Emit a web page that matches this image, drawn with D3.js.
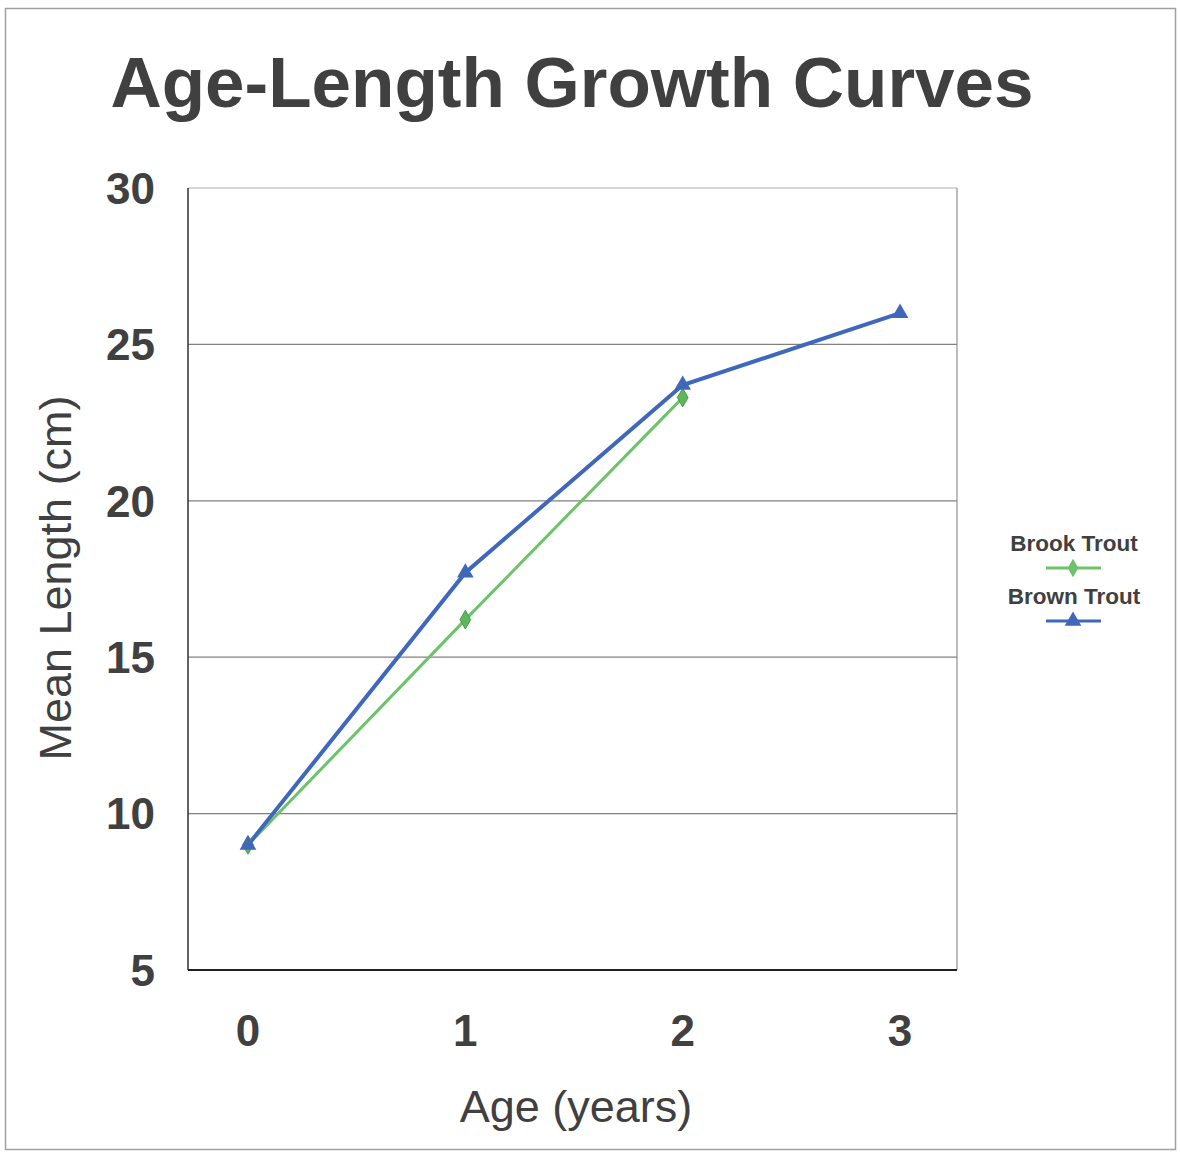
<!DOCTYPE html>
<html>
<head>
<meta charset="utf-8">
<script src="https://cdn.jsdelivr.net/npm/d3@7"></script>
<style>
  body { margin: 0; background: #fff; }
  text { font-family: "Liberation Sans", Arial, sans-serif; }
</style>
</head>
<body>
<svg id="chart" width="1180" height="1153"></svg>
<script>
// values
var ages = [0, 1, 2, 3];
var brookTrout = [9.0, 16.2, 23.3];
var brownTrout = [9.0, 17.7, 23.7, 26.0];
var yTicks = [5, 10, 15, 20, 25, 30];
var seriesNames = ["Brook Trout", "Brown Trout"];

var svg = d3.select("#chart");
var textCol = "#404040";

// outer frame
svg.append("rect")
  .attr("x", 5.5).attr("y", 8.5)
  .attr("width", 1170).attr("height", 1141)
  .attr("fill", "none").attr("stroke", "#a0a0a0").attr("stroke-width", 1.5);

// plot area
var margin = {left: 188, right: 957, top: 188, bottom: 970};

var x = d3.scaleLinear()
  .domain([-0.276, 3.262])
  .range([margin.left, margin.right]);

var y = d3.scaleLinear()
  .domain([5, 30])
  .range([margin.bottom, margin.top]);

// gridlines
svg.append("g")
  .selectAll("line")
  .data(yTicks.filter(function (d) { return d > 5; }))
  .enter().append("line")
    .attr("x1", margin.left).attr("x2", margin.right)
    .attr("y1", function (d) { return y(d); })
    .attr("y2", function (d) { return y(d); })
    .attr("stroke", function (d) { return d == 30 ? "#b0b0b0" : "#808080"; })
    .attr("stroke-width", 1.2);

// right border
svg.append("line")
  .attr("x1", margin.right).attr("x2", margin.right)
  .attr("y1", margin.top).attr("y2", margin.bottom)
  .attr("stroke", "#909090").attr("stroke-width", 1.2);

// left and bottom axes
svg.append("line")
  .attr("x1", margin.left).attr("x2", margin.left)
  .attr("y1", margin.top).attr("y2", margin.bottom)
  .attr("stroke", "#303030").attr("stroke-width", 1.5);
svg.append("line")
  .attr("x1", margin.left).attr("x2", margin.right)
  .attr("y1", margin.bottom).attr("y2", margin.bottom)
  .attr("stroke", "#202020").attr("stroke-width", 2);

// y tick labels
svg.append("g")
  .selectAll("text")
  .data(yTicks)
  .enter().append("text")
    .attr("x", 155)
    .attr("y", function (d) { return y(d); })
    .attr("dy", "0.36em")
    .attr("text-anchor", "end")
    .style("font-size", "44px")
    .style("font-weight", "bold")
    .attr("fill", textCol)
    .text(function (d) { return d; });

// x tick labels
svg.append("g")
  .selectAll("text")
  .data(ages)
  .enter().append("text")
    .attr("x", function (d) { return x(d); })
    .attr("y", 1030)
    .attr("dy", "0.36em")
    .attr("text-anchor", "middle")
    .style("font-size", "44px")
    .style("font-weight", "bold")
    .attr("fill", textCol)
    .text(function (d) { return d; });

// title
svg.append("text")
  .attr("x", 572).attr("y", 107)
  .attr("text-anchor", "middle")
  .style("font-size", "71px")
  .style("font-weight", "bold")
  .attr("fill", textCol)
  .text("Age-Length Growth Curves");

// axis titles
svg.append("text")
  .attr("transform", "translate(71,578)rotate(-90)")
  .attr("text-anchor", "middle")
  .style("font-size", "45px")
  .attr("fill", textCol)
  .text("Mean Length (cm)");

svg.append("text")
  .attr("x", 576).attr("y", 1122)
  .attr("text-anchor", "middle")
  .style("font-size", "45px")
  .attr("fill", textCol)
  .text("Age (years)");

// lines
var green = "#6cc36a", blue = "#3f67bb";
var line = d3.line()
  .x(function (d, i) { return x(ages[i]); })
  .y(function (d) { return y(d); });

svg.append("path").datum(brookTrout)
  .attr("d", line).attr("fill", "none")
  .attr("stroke", green).attr("stroke-width", 3);

svg.append("path").datum(brownTrout)
  .attr("d", line).attr("fill", "none")
  .attr("stroke", blue).attr("stroke-width", 4);

var diamond = d3.symbol().type(d3.symbolDiamond).size(100);
var triangle = d3.symbol().type(d3.symbolTriangle).size(120);

svg.append("g").selectAll("path")
  .data(brookTrout)
  .enter().append("path")
    .attr("d", diamond)
    .attr("transform", function (d, i) { return "translate(" + x(ages[i]) + "," + y(d) + ")"; })
    .attr("fill", "#5cb85a").attr("stroke", "#4a9a48");

svg.append("g").selectAll("path")
  .data(brownTrout)
  .enter().append("path")
    .attr("d", triangle)
    .attr("transform", function (d, i) { return "translate(" + x(ages[i]) + "," + y(d) + ")"; })
    .attr("fill", blue);

// legend
var legend = svg.append("g");
var lgColors = [green, blue];
var lgSyms = [diamond, triangle];
seriesNames.forEach(function (name, i) {
  var cy = 543 + i * 53;
  legend.append("text")
    .attr("x", 1074).attr("y", cy)
    .attr("dy", "0.36em")
    .attr("text-anchor", "middle")
    .style("font-size", "22.5px")
    .style("font-weight", "bold")
    .attr("fill", textCol)
    .text(name);
  legend.append("line")
    .attr("x1", 1046).attr("x2", 1101)
    .attr("y1", cy + 25).attr("y2", cy + 25)
    .attr("stroke", lgColors[i]).attr("stroke-width", 3);
  legend.append("path")
    .attr("d", lgSyms[i])
    .attr("transform", "translate(1073," + (cy + 25) + ")")
    .attr("fill", lgColors[i]);
});
</script>
</body>
</html>
